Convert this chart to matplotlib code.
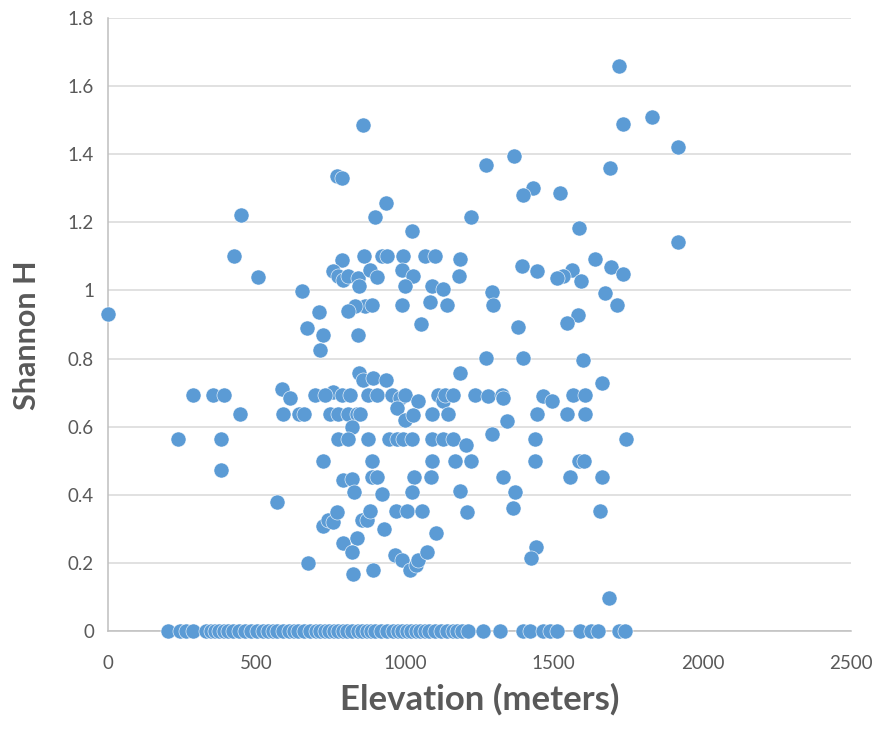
import matplotlib
matplotlib.use("Agg")
import matplotlib.pyplot as plt
from matplotlib.ticker import FuncFormatter

# ---- data ----
elev_high = [1719, 1829, 1732, 859, 1917, 1366, 1271, 1689, 770, 786, 1431, 1521, 1397,
             934, 447, 898, 1220, 1586, 1022, 1917]
h_high = [1.66, 1.508, 1.489, 1.485, 1.421, 1.394, 1.369, 1.36, 1.335, 1.33, 1.301, 1.286, 1.281,
          1.257, 1.222, 1.217, 1.216, 1.183, 1.176, 1.142]

elev_upper = [425, 788, 862, 921, 938, 994, 1067, 1100, 1184, 1640,
              1392, 1691, 1445, 1560, 1532, 1510, 1732, 1592,
              756, 775, 792, 808, 842, 881, 906, 988, 1027, 1182, 504,
              845, 999, 1089, 1128,
              652, 1291, 1672, 1083, 988, 1294, 1142, 865, 887, 1712, 831, 808, 711, 1,
              1582, 1052, 1546, 1381, 669, 724, 842]
h_upper = [1.10, 1.09, 1.10, 1.10, 1.10, 1.10, 1.10, 1.10, 1.092, 1.092,
           1.073, 1.069, 1.056, 1.059, 1.043, 1.036, 1.049, 1.029,
           1.056, 1.041, 1.031, 1.041, 1.036, 1.061, 1.039, 1.061, 1.041, 1.041, 1.039,
           1.012, 1.012, 1.012, 1.004,
           0.997, 0.994, 0.992, 0.966, 0.958, 0.958, 0.956, 0.955, 0.958, 0.958, 0.953, 0.941, 0.938, 0.931,
           0.927, 0.902, 0.904, 0.894, 0.889, 0.87, 0.87]

elev_mid = [713, 1272, 1395, 1597, 1184, 846, 859, 893, 935, 1663, 584, 758,
            285, 352, 391, 612, 696, 730, 786, 814, 876, 904, 955, 982, 999, 1044,
            1111, 1128, 1134, 1162, 1235, 1280, 1325, 1330, 1462, 1493, 1566, 1605,
            444, 590, 643, 660, 747, 775, 808, 837, 848, 971, 999, 1027, 1089, 1145,
            1442, 1546, 1605, 1344, 820]
h_mid = [0.826, 0.801, 0.801, 0.796, 0.757, 0.757, 0.738, 0.743, 0.738, 0.728, 0.710, 0.703,
         0.694, 0.694, 0.694, 0.684, 0.694, 0.694, 0.694, 0.694, 0.694, 0.694, 0.694, 0.684, 0.694, 0.676,
         0.694, 0.674, 0.694, 0.694, 0.694, 0.691, 0.694, 0.684, 0.691, 0.674, 0.694, 0.694,
         0.637, 0.637, 0.637, 0.637, 0.637, 0.637, 0.637, 0.637, 0.637, 0.654, 0.62, 0.635, 0.638, 0.637,
         0.638, 0.638, 0.637, 0.618, 0.599]

elev_low = [237, 380, 775, 808, 874, 947, 971, 994, 1022, 1089, 1128, 1162, 1437, 1743, 1204, 1291,
            724, 887, 1089, 1168, 1220, 1437, 1586, 1602,
            380, 792, 820, 887, 906, 1030, 1086, 1330, 1554, 1663,
            829, 921, 1022, 1186, 1369, 568, 1364,
            722, 741, 758, 769, 854, 870, 882, 969, 1005, 1055, 1208, 1655, 930, 1103,
            792, 837, 820, 966, 988, 1016, 1036, 1044, 1072, 674, 823, 893, 1440, 1423, 1687]
h_low = [0.563, 0.563, 0.563, 0.563, 0.563, 0.563, 0.563, 0.563, 0.563, 0.563, 0.563, 0.563, 0.563, 0.563, 0.547, 0.578,
         0.50, 0.50, 0.50, 0.50, 0.50, 0.50, 0.50, 0.50,
         0.473, 0.444, 0.446, 0.453, 0.453, 0.452, 0.452, 0.452, 0.453, 0.453,
         0.409, 0.403, 0.409, 0.411, 0.409, 0.38, 0.362,
         0.307, 0.326, 0.321, 0.348, 0.326, 0.326, 0.351, 0.351, 0.351, 0.351, 0.349, 0.351, 0.299, 0.289,
         0.258, 0.272, 0.233, 0.223, 0.209, 0.179, 0.194, 0.209, 0.233, 0.199, 0.168, 0.179, 0.248, 0.214, 0.096]

elev_zero = [203, 242, 262, 287, 330, 345, 360, 375, 390, 405, 420, 440, 460, 480, 500, 520,
             540, 555, 570, 590, 610, 625, 640, 660, 680, 700, 715, 730, 745, 760, 775, 790,
             805, 820, 840, 855, 870, 885, 900, 920, 940, 960, 975, 990, 1005, 1020, 1035,
             1050, 1065, 1080, 1100, 1120, 1140, 1160, 1175, 1190, 1212, 1263, 1320, 1395,
             1420, 1465, 1487, 1512, 1588, 1625, 1650, 1720, 1740]
h_zero = [0.0] * len(elev_zero)

x_ticks = [0, 500, 1000, 1500, 2000, 2500]
y_ticks = [0, 0.2, 0.4, 0.6, 0.8, 1.0, 1.2, 1.4, 1.6, 1.8]
x_label = "Elevation (meters)"
y_label = "Shannon H"

# ---- plot ----
plt.rcParams['font.family'] = ['Lato', 'DejaVu Sans']
fig = plt.figure(figsize=(8.79, 7.32), dpi=100)
ax = fig.add_axes([108 / 879, 1 - 631 / 732, (851 - 108) / 879, (631 - 18) / 732])

color = '#5B9BD5'
elev = elev_high + elev_upper + elev_mid + elev_low + elev_zero
h = h_high + h_upper + h_mid + h_low + h_zero
ax.scatter(elev, h, s=118, c=color, edgecolors='white', linewidths=0.4, zorder=3, clip_on=False)

ax.set_xlim(0, 2500)
ax.set_ylim(0, 1.8)
ax.set_xticks(x_ticks)
ax.set_yticks(y_ticks)
ax.yaxis.set_major_formatter(FuncFormatter(lambda v, p: f"{v:g}"))
ax.grid(axis='y', color='#D9D9D9', linewidth=1.1, zorder=0)
ax.set_axisbelow(True)
for s in ['top', 'right']:
    ax.spines[s].set_visible(False)
for s in ['left', 'bottom']:
    ax.spines[s].set_color('#BFBFBF')
    ax.spines[s].set_linewidth(1.1)
ax.tick_params(axis='both', length=0, labelsize=13.5, labelcolor='#595959')
ax.tick_params(axis='x', pad=17)
ax.tick_params(axis='y', pad=10)

ax.set_xlabel(x_label, fontsize=25, fontweight='bold', color='#595959', labelpad=8)
ax.set_ylabel(y_label, fontsize=22, fontweight='bold', color='#595959',
              va='center', ha='center')
ax.yaxis.set_label_coords(-0.109, 0.483)

fig.savefig('out.png', dpi=100)
